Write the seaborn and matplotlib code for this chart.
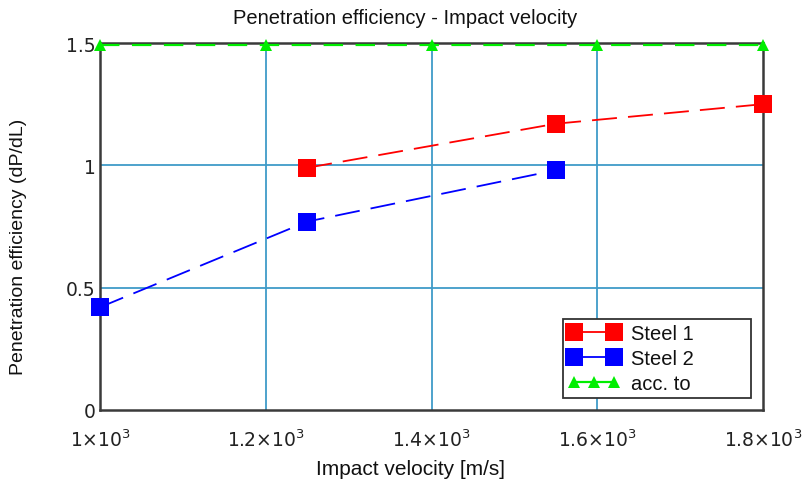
import matplotlib
matplotlib.use("Agg")
import matplotlib.pyplot as plt
import seaborn as sns
import pandas as pd
from matplotlib.lines import Line2D
from matplotlib.legend_handler import HandlerLine2D

# data
steel1_v = [1250, 1550, 1800]
steel1_e = [0.99, 1.17, 1.25]
steel2_v = [1000, 1250, 1550]
steel2_e = [0.42, 0.77, 0.98]
acc_v = [1000, 1200, 1400, 1600, 1800]
acc_e = [1.49, 1.49, 1.49, 1.49, 1.49]
xticks = [1000, 1200, 1400, 1600, 1800]
xticklabels = [r"$1{\times}10^3$", r"$1.2{\times}10^3$", r"$1.4{\times}10^3$",
               r"$1.6{\times}10^3$", r"$1.8{\times}10^3$"]
yticks = [0, 0.5, 1, 1.5]
yticklabels = ["0", "0.5", "1", "1.5"]

sns.set_style("white")
plt.rcParams["font.family"] = ["Liberation Sans", "DejaVu Sans"]
plt.rcParams["mathtext.fontset"] = "custom"
plt.rcParams["mathtext.rm"] = "DejaVu Sans"
plt.rcParams["mathtext.it"] = "DejaVu Sans"
plt.rcParams["lines.scale_dashes"] = False

fig = plt.figure(figsize=(8.08, 4.89), dpi=100)
ax = fig.add_axes([100/808, 1-411/489, 663/808, 367/489])

grid_c = "#3f9bc8"
ax.set_xlim(1000, 1800)
ax.set_ylim(0, 1.5)
ax.set_xticks(xticks)
ax.set_yticks(yticks)
for x in xticks[1:-1]:
    ax.axvline(x, color=grid_c, lw=1.3, zorder=0)
for y in yticks[1:-1]:
    ax.axhline(y, color=grid_c, lw=1.3, zorder=0)

df1 = pd.DataFrame({"v": steel1_v, "e": steel1_e})
df2 = pd.DataFrame({"v": steel2_v, "e": steel2_e})
df3 = pd.DataFrame({"v": acc_v, "e": acc_e})

sns.lineplot(data=df1, x="v", y="e", color="#ff0000", marker="s", markersize=13,
             markeredgewidth=0, linestyle=(0, (18, 8)), lw=1.3, ax=ax,
             clip_on=False, zorder=4)
sns.lineplot(data=df2, x="v", y="e", color="#0000ff", marker="s", markersize=13,
             markeredgewidth=0, linestyle=(0, (18, 8)), lw=1.3, ax=ax,
             clip_on=False, zorder=4)
sns.lineplot(data=df3, x="v", y="e", color="#00ee00", marker="^", markersize=8,
             markeredgewidth=0, linestyle=(0, (14, 9)), lw=1.6, ax=ax,
             clip_on=False, zorder=4)

ax.set_xticklabels(xticklabels, fontsize=13.5)
ax.set_yticklabels(yticklabels, fontsize=13.5, family="DejaVu Sans")
ax.tick_params(axis="y", length=0, pad=3, colors="#222222")
ax.tick_params(axis="x", length=0, pad=13, colors="#222222")
ax.set_xlabel("")
ax.set_ylabel("")
fig.text(410/808, 1-470/489, "Impact velocity [m/s]", fontsize=15,
         ha="center", va="center", color="#111111")
fig.text(19/808, 1-247/489, "Penetration efficiency (dP/dL)", fontsize=14,
         ha="center", va="center", rotation=90, color="#111111")
fig.text(405/808, 1-18/489, "Penetration efficiency - Impact velocity",
         fontsize=14.5, ha="center", va="center", color="#111111")

for s in ax.spines.values():
    s.set_color("#3a3a3a")
    s.set_linewidth(1.8)
    s.set_visible(True)

h1 = Line2D([], [], color="#ff0000", marker="s", markersize=13, markeredgewidth=0, lw=1.3)
h2 = Line2D([], [], color="#0000ff", marker="s", markersize=13, markeredgewidth=0, lw=1.3)
h3 = Line2D([], [], color="#00ee00", marker="^", markersize=9, markeredgewidth=0, lw=1.6)
leg = ax.legend([h1, h2, h3], ["Steel 1", "Steel 2", "acc. to"],
                handler_map={h1: HandlerLine2D(numpoints=2),
                             h2: HandlerLine2D(numpoints=2),
                             h3: HandlerLine2D(numpoints=3)},
                loc="lower left", bbox_to_anchor=(0.698, 0.033, 0.284, 0.226),
                mode="expand",
                fontsize=14.5, frameon=True, fancybox=False, framealpha=1,
                edgecolor="#333333", handlelength=2.6, handletextpad=0.55,
                labelspacing=0.3, borderpad=0.25, borderaxespad=0)
leg.get_frame().set_linewidth(1.3)
for t in leg.get_texts():
    t.set_color("#111111")

fig.savefig("out.png", dpi=100)
